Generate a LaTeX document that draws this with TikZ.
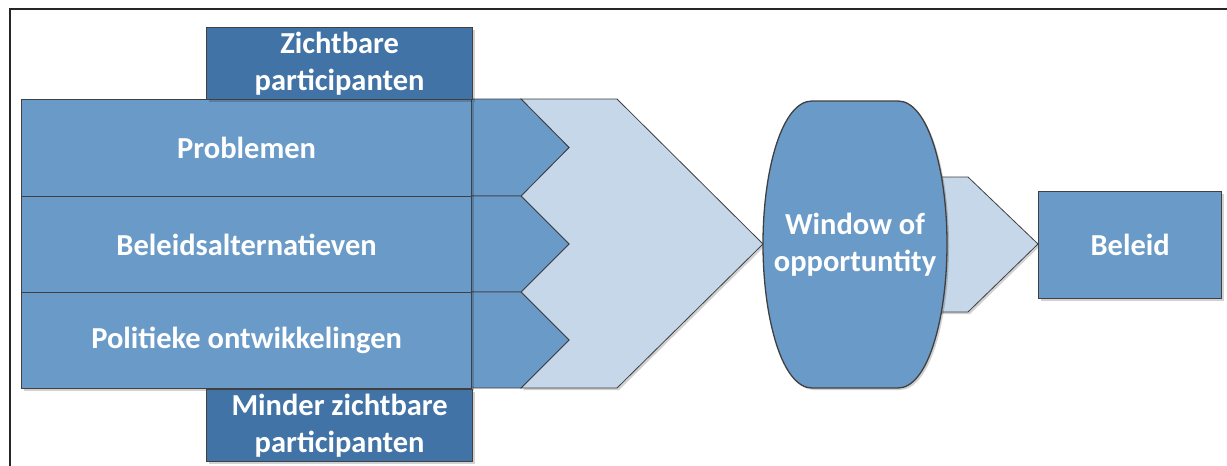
\documentclass[tikz,border=0pt]{standalone}
\usepackage{fontspec}
\setmainfont{Carlito}
\usetikzlibrary{shadows}
\definecolor{midblue}{HTML}{6A9BC8}
\definecolor{darkblue}{HTML}{4173A6}
\definecolor{lightblue}{HTML}{C5D7E8}
\definecolor{edgegray}{HTML}{404040}
\tikzset{
  shade/.style={drop shadow={shadow xshift=2pt, shadow yshift=-2pt, opacity=0.18, fill=black}},
  rowbox/.style={draw=edgegray, line width=1.3pt, fill=midblue, text=white, anchor=north west, minimum width=450pt, inner sep=0pt, shade},
  partbox/.style={draw=edgegray, line width=1.3pt, fill=darkblue, text=white, anchor=north west, minimum width=266pt, minimum height=72pt, inner sep=0pt, align=center, shade},
  lightshape/.style={draw=edgegray, line width=0.8pt, fill=lightblue, shade},
  midshape/.style={draw=edgegray, line width=0.8pt, fill=midblue},
  label/.style={text=white, align=center, inner sep=0pt},
}
\begin{document}
\begin{tikzpicture}[x=1pt, y=-1pt, font=\fontsize{30.5}{37}\selectfont\bfseries]
\useasboundingbox (0,0) rectangle (1227,466);
\clip (0,0) rectangle (1227,466);
\fill[white] (0,0) rectangle (1227,466);
% frame
\draw[line width=2pt, black!85] (9.5,480) -- (9.5,8.5) -- (1240,8.5);
% big light chevron
\filldraw[lightshape] (521,99) -- (617,99) -- (763,244) -- (617,388) -- (521,388) -- (569,340) -- (521,292) -- (569,244) -- (521,196) -- (569,147.5) -- cycle;
% small chevrons
\filldraw[midshape] (465,99) -- (521,99) -- (569,147.5) -- (521,196) -- (465,196) -- cycle;
\filldraw[midshape] (465,196) -- (521,196) -- (569,244) -- (521,292) -- (465,292) -- cycle;
\filldraw[midshape] (465,292) -- (521,292) -- (569,340) -- (521,388) -- (465,388) -- cycle;
% rows
\node[rowbox, minimum height=97pt] (prob) at (21,99) {Problemen};
\node[rowbox, minimum height=96pt] (alt) at (21,196) {Beleidsalternatieven};
\node[rowbox, minimum height=96pt] (pol) at (21,292) {Politieke ontwikkelingen};
% participant boxes
\node[partbox] (zicht) at (206,27) {Zichtbare\\participanten};
\node[partbox] (minder) at (206,389) {Minder zichtbare\\participanten};
% small light arrow
\filldraw[lightshape] (930,177) -- (968,177) -- (1038,244) -- (968,312) -- (930,312) -- cycle;
% window
\filldraw[draw=edgegray, line width=1.3pt, fill=midblue, shade] (812,101) -- (898,101) .. controls (928,101) and (947,170) .. (947,244) .. controls (947,318) and (928,388) .. (898,388) -- (812,388) .. controls (782,388) and (763,318) .. (763,244) .. controls (763,170) and (782,101) .. (812,101) -- cycle;
\node[label] (window) at (855,245) {Window of\\opportuntity};
% beleid
\node[draw=edgegray, line width=1.3pt, fill=midblue, text=white, anchor=north west, minimum width=183pt, minimum height=107pt, inner sep=0pt, shade] (beleid) at (1038,191) {Beleid};
\end{tikzpicture}
\end{document}
